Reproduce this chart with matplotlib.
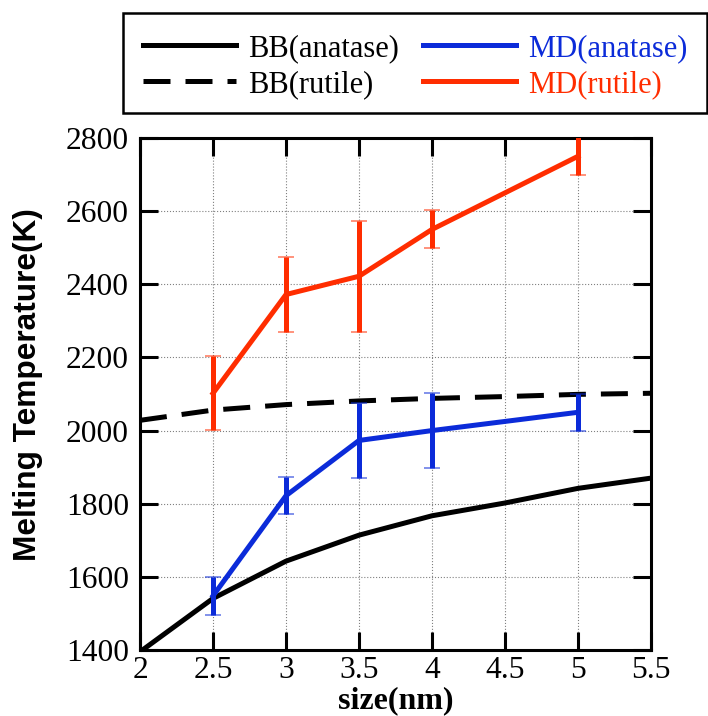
import matplotlib
matplotlib.use("Agg")
import matplotlib.pyplot as plt
from matplotlib.patches import Rectangle
from matplotlib.ticker import FormatStrFormatter

# BB model curves
size_bb = [2, 2.5, 3, 3.5, 4, 4.5, 5, 5.5]
bb_anatase = [1395, 1541, 1643, 1714, 1767, 1802, 1842, 1870]
bb_rutile = [2028, 2056, 2071, 2081, 2088, 2093, 2099, 2102]

# MD results with error bars
size_md_anatase = [2.5, 3, 3.5, 4, 5]
md_anatase = [1548, 1822, 1973, 2000, 2050]
md_anatase_err = [52, 51, 102, 103, 51]

size_md_rutile = [2.5, 3, 3.5, 4, 5]
md_rutile = [2102, 2372, 2422, 2550, 2750]
md_rutile_err = [101, 102, 152, 52, 52]

x_ticks = [2, 2.5, 3, 3.5, 4, 4.5, 5, 5.5]
y_ticks = [1400, 1600, 1800, 2000, 2200, 2400, 2600, 2800]

blue = "#0b2bd9"
red = "#ff2d00"
serif = "Liberation Serif"

fig = plt.figure(figsize=(7.08, 7.16), dpi=100)
ax = fig.add_axes([140 / 708, 1 - 650 / 716, (651 - 140) / 708, (650 - 138) / 716])

ax.grid(True, color="gray", linestyle=":", linewidth=0.8)
ax.set_axisbelow(True)

l1, = ax.plot(size_bb, bb_anatase, color="black", lw=3.6, label="BB(anatase)")
l2, = ax.plot(size_bb, bb_rutile, color="black", lw=3.6, dashes=(5.4, 3.0),
              label="BB(rutile)")

def md_series(x, y, err, color, label):
    line, caps, bars = ax.errorbar(x, y, yerr=err, color=color, lw=3.6,
                                   elinewidth=3.6, capsize=5.8, capthick=1.2,
                                   label=label, zorder=3)
    for c in caps:
        c.set_alpha(0.6)
    return line

l3 = md_series(size_md_anatase, md_anatase, md_anatase_err, blue, "MD(anatase)")
l4 = md_series(size_md_rutile, md_rutile, md_rutile_err, red, "MD(rutile)")

ax.set_xlim(2, 5.5)
ax.set_ylim(1400, 2800)
ax.set_xticks(x_ticks)
ax.set_yticks(y_ticks)
ax.xaxis.set_major_formatter(FormatStrFormatter("%g"))

for s in ax.spines.values():
    s.set_linewidth(2.2)
ax.tick_params(direction="in", length=13, width=2.2, top=True, right=True,
               labelsize=22.7)
ax.tick_params(axis="y", pad=8)
ax.tick_params(axis="x", pad=4)
for lab in ax.get_xticklabels() + ax.get_yticklabels():
    lab.set_fontfamily(serif)

ax.set_ylabel("Melting Temperature(K)", fontsize=22.8, fontweight="bold",
              fontfamily="Liberation Sans", va="center")
ax.yaxis.set_label_coords(-0.219, 0.518)
ax.set_xlabel("size(nm)", fontsize=23, fontweight="bold", fontfamily=serif,
              labelpad=1.5)

# legend box across the top
fig.patches.append(Rectangle((123 / 708, 1 - 113 / 716), (707 - 123) / 708, 100 / 716,
                             transform=fig.transFigure, fill=False,
                             edgecolor="black", linewidth=1.8))
fig.legend([l1, l2, l3, l4], ["BB(anatase)", "BB(rutile)", "MD(anatase)", "MD(rutile)"],
           ncol=2, loc="upper left", bbox_to_anchor=(143 / 708, 1 - 34 / 716),
           frameon=False, borderpad=0, borderaxespad=0, handlelength=3.05,
           handletextpad=0.4, columnspacing=0.78, labelspacing=0.22,
           labelcolor=["black", "black", blue, red],
           prop={"family": serif, "size": 22})

fig.savefig("out.png", dpi=100)
